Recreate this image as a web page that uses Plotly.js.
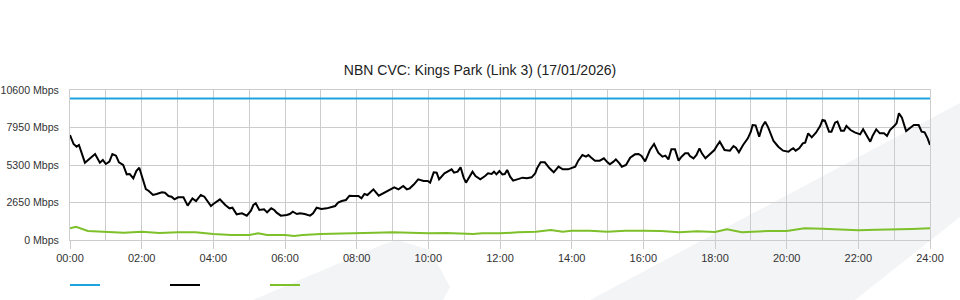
<!DOCTYPE html>
<html>
<head>
<meta charset="utf-8">
<script src="https://cdn.plot.ly/plotly-3.0.1.min.js"></script>
<style>
  html, body { margin: 0; padding: 0; background: #ffffff; }
  #chart { width: 960px; height: 300px; }
</style>
</head>
<body>
<div id="chart"></div>
<script>
// ---- Data (minutes since 00:00, values in Mbps) ----
const chartTitle = 'NBN CVC: Kings Park (Link 3) (17/01/2026)';

const capacityMinutes = [0, 1440];
const capacityMbps = [10000, 10000];

const usageMinutes = [
  0, 6, 11, 15, 25, 33, 42, 50, 55, 60, 66, 71, 77, 82, 89, 95, 100, 106, 111, 116,
  121, 127, 132, 139, 145, 154, 159, 165, 170, 175, 181, 190, 197, 205, 211, 219, 225, 231, 236, 240,
  251, 260, 267, 272, 279, 288, 296, 303, 307, 311, 317, 325, 330, 337, 342, 346, 353, 363, 368, 373,
  380, 385, 393, 402, 407, 413, 421, 430, 437, 444, 449, 455, 462, 468, 474, 483, 488, 493, 498, 508,
  517, 525, 533, 543, 550, 558, 564, 569, 576, 583, 592, 599, 603, 609, 614, 618, 627, 633, 639, 643,
  649, 654, 659, 663, 668, 674, 679, 687, 695, 700, 706, 710, 714, 719, 724, 728, 732, 737, 742, 751,
  758, 765, 773, 779, 782, 788, 795, 803, 810, 818, 825, 834, 846, 851, 858, 864, 868, 872, 879, 887,
  894, 900, 904, 910, 914, 920, 924, 931, 938, 946, 952, 957, 963, 967, 971, 978, 985, 992, 997, 1002,
  1007, 1013, 1019, 1024, 1030, 1035, 1038, 1044, 1049, 1054, 1058, 1064, 1072, 1079, 1083, 1088, 1096, 1102, 1105, 1111,
  1115, 1120, 1127, 1135, 1140, 1143, 1148, 1154, 1159, 1164, 1169, 1178, 1186, 1194, 1203, 1208, 1211, 1215, 1221, 1227,
  1231, 1236, 1242, 1249, 1256, 1260, 1264, 1271, 1275, 1281, 1285, 1291, 1296, 1300, 1307, 1314, 1323, 1328, 1334, 1340,
  1344, 1350, 1356, 1363, 1368, 1373, 1380, 1384, 1388, 1393, 1400, 1407, 1413, 1421, 1426, 1431, 1436, 1440
];
const usageMbps = [
  7420, 6784, 6595, 6713, 5465, 5771, 6077, 5465, 5653, 5371, 5535, 6077, 5960, 5488, 5300, 4640, 4664, 4358, 4876, 5111,
  4428, 3604, 3463, 3180, 3251, 3369, 3345, 3109, 3062, 2874, 3015, 3015, 2426, 2944, 2756, 3180, 3062, 2709, 2403, 2544,
  2874, 2473, 2237, 2285, 1814, 1885, 1720, 2073, 2473, 2591, 2120, 2167, 1955, 2237, 2120, 1932, 1720, 1767, 1837, 2002,
  1837, 1885, 1837, 1720, 1885, 2285, 2190, 2237, 2308, 2403, 2638, 2756, 2827, 3133, 3109, 3109, 2944, 3251, 3180, 3581,
  3133, 3298, 3486, 3722, 3581, 3816, 3581, 3651, 3934, 4287, 4169, 4169, 4052, 4782, 4758, 4287, 4711, 4829, 4994, 4758,
  4829, 5135, 4428, 4052, 4428, 4829, 4523, 4287, 4523, 4711, 4664, 4829, 4640, 4876, 4640, 4664, 4947, 4476, 4193, 4287,
  4405, 4358, 4428, 4711, 5064, 5488, 5488, 5064, 4782, 5182, 4994, 4994, 5182, 5606, 6007, 5889, 6007, 5842, 5606, 5606,
  5771, 5488, 5347, 5535, 5700, 5418, 5182, 5300, 5818, 6053, 6077, 5936, 5560, 5950, 6360, 6784, 6171, 5889, 5960, 5700,
  6407, 6407, 5606, 5889, 6124, 6124, 5936, 5771, 6007, 6478, 6124, 5771, 6077, 6360, 6643, 6949, 6360, 6360, 6313, 6643,
  6525, 6195, 6713, 7185, 7656, 8127, 8104, 7303, 8010, 8363, 7962, 6996, 6595, 6313, 6242, 6407, 6478, 6313, 6478, 6831,
  6878, 7538, 7256, 7585, 8056, 8480, 8433, 7656, 7656, 8292, 8363, 7727, 7727, 8056, 7773, 7609, 7468, 7821, 7350, 6949,
  7374, 7821, 7538, 7538, 7350, 7773, 8056, 8245, 8952, 8645, 7703, 7962, 8127, 8127, 7656, 7609, 7185, 6713
];

const uploadMinutes = [
  0, 10, 30, 60, 90, 120, 150, 180, 210, 240, 270, 300, 315, 330, 360, 375, 390, 420, 450, 480,
  510, 540, 570, 600, 630, 660, 675, 690, 720, 750, 780, 805, 825, 840, 870, 900, 930, 960, 990, 1020,
  1050, 1080, 1100, 1125, 1140, 1170, 1200, 1230, 1260, 1290, 1320, 1350, 1380, 1410, 1440
];
const uploadMbps = [
  825, 940, 636, 590, 518, 590, 495, 545, 545, 424, 353, 353, 470, 353, 353, 283, 353, 424, 470, 518,
  518, 545, 495, 470, 495, 470, 424, 470, 470, 545, 590, 707, 590, 660, 660, 590, 660, 660, 636, 545,
  610, 565, 756, 545, 590, 636, 636, 825, 801, 756, 684, 730, 730, 777, 825
];

const tickMinutes = [0, 120, 240, 360, 480, 600, 720, 840, 960, 1080, 1200, 1320, 1440];
const tickLabels = ['00:00', '02:00', '04:00', '06:00', '08:00', '10:00', '12:00', '14:00', '16:00', '18:00', '20:00', '22:00', '24:00'];
const yTickValues = [0, 2650, 5300, 7950, 10600];
const yTickLabels = ['0 Mbps', '2650 Mbps', '5300 Mbps', '7950 Mbps', '10600 Mbps'];

// ---- Plot ----
const FONT = 'Liberation Sans, Arial, Helvetica, sans-serif';
const GRID = '#cccccc';

const traces = [
  { x: capacityMinutes, y: capacityMbps, type: 'scatter', mode: 'lines', name: '',
    line: { color: '#1ea3e1', width: 2 }, hoverinfo: 'skip' },
  { x: usageMinutes, y: usageMbps, type: 'scatter', mode: 'lines', name: '',
    line: { color: '#000000', width: 2 }, hoverinfo: 'skip' },
  { x: uploadMinutes, y: uploadMbps, type: 'scatter', mode: 'lines', name: '',
    line: { color: '#7dc02a', width: 2 }, hoverinfo: 'skip' }
];

// pixel -> paper helpers for the faint background decoration
const L = 70, R = 930, T = 90, B = 240;
const px = v => (v - L) / (R - L);
const py = v => (B - v) / (B - T);
const poly = pts => 'M' + pts.map(p => px(p[0]).toFixed(4) + ',' + py(p[1]).toFixed(4)).join(' L') + ' Z';

const layout = {
  width: 960,
  height: 300,
  margin: { l: 70, r: 30, t: 90, b: 60, pad: 0 },
  paper_bgcolor: '#ffffff',
  plot_bgcolor: 'rgba(0,0,0,0)',
  font: { family: FONT, size: 11, color: '#333333' },
  title: {
    text: chartTitle,
    font: { family: FONT, size: 14, color: '#222222' },
    x: 0.5, xref: 'container', xanchor: 'center',
    y: 1 - 70 / 300, yref: 'container', yanchor: 'middle'
  },
  showlegend: true,
  legend: {
    orientation: 'h',
    xref: 'container', x: 65 / 960, xanchor: 'left',
    yref: 'container', y: 1 - 285 / 300, yanchor: 'middle',
    entrywidth: 55, entrywidthmode: 'pixels',
    font: { family: FONT, size: 11 },
    bgcolor: 'rgba(0,0,0,0)'
  },
  xaxis: {
    range: [0, 1440],
    tickmode: 'array',
    tickvals: tickMinutes,
    ticktext: tickLabels,
    ticks: 'outside', ticklen: 8, tickcolor: GRID, tickwidth: 1,
    showgrid: true, gridcolor: GRID, gridwidth: 1,
    minor: { dtick: 60, tick0: 0, showgrid: true, gridcolor: GRID, gridwidth: 1 },
    zeroline: false,
    showline: true, linecolor: GRID, linewidth: 1, mirror: true,
    tickfont: { family: FONT, size: 11, color: '#333333' },
    automargin: false,
    fixedrange: true
  },
  yaxis: {
    range: [0, 10600],
    tickmode: 'array',
    tickvals: yTickValues,
    ticktext: yTickLabels,
    ticks: '',
    ticklabelstandoff: 8,
    showgrid: true, gridcolor: GRID, gridwidth: 1,
    zeroline: false,
    showline: true, linecolor: GRID, linewidth: 1, mirror: true,
    tickfont: { family: FONT, size: 10.6, color: '#333333' },
    automargin: false,
    fixedrange: true
  },
  shapes: [
    { type: 'path', xref: 'paper', yref: 'paper', layer: 'below',
      path: poly([[590, 300], [960, 103], [960, 217], [855, 300]]),
      fillcolor: '#f3f4f6', line: { width: 0 } },
    { type: 'path', xref: 'paper', yref: 'paper', layer: 'below',
      path: poly([[253, 300], [384, 244], [397, 240], [430, 250], [450, 287], [443, 300]]),
      fillcolor: '#f3f4f6', line: { width: 0 } }
  ]
};

Plotly.newPlot('chart', traces, layout, { displayModeBar: false, staticPlot: true });
</script>
</body>
</html>
